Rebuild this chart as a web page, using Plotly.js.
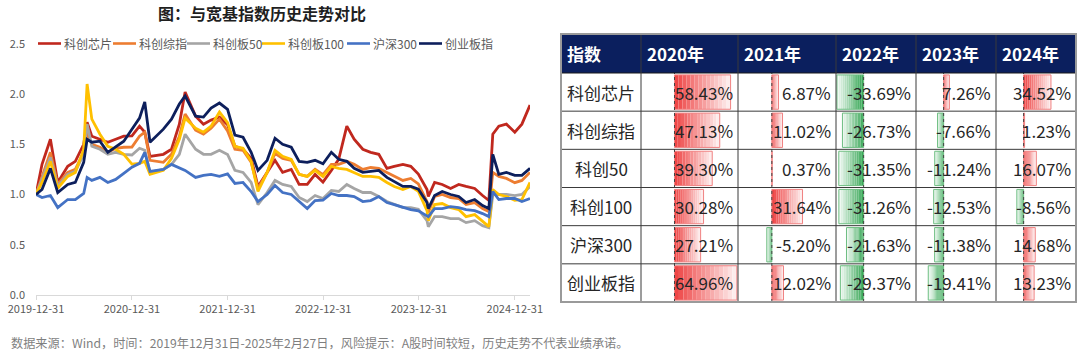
<!DOCTYPE html>
<html><head><meta charset="utf-8">
<script src="https://cdn.plot.ly/plotly-3.0.1.min.js"></script>
<style>html,body{margin:0;padding:0;background:#fff}#chart{width:1080px;height:354px}</style>
</head><body><div id="chart"></div>
<script>
// ---------- line chart data (normalised, 2019-12-31 = 1) ----------
const dates = ['2019-12-31','2020-01-23','2020-02-24','2020-03-23','2020-04-30','2020-05-29','2020-06-30','2020-07-13','2020-07-31','2020-08-31',
 '2020-09-30','2020-10-30','2020-11-30','2020-12-31','2021-01-29','2021-02-18','2021-03-10','2021-04-30','2021-05-31','2021-06-30',
 '2021-07-22','2021-08-31','2021-09-30','2021-10-29','2021-11-30','2021-12-31','2022-01-28','2022-02-28','2022-03-31','2022-04-26',
 '2022-05-31','2022-06-30','2022-07-29','2022-08-31','2022-09-30','2022-10-31','2022-11-30','2022-12-30','2023-01-31','2023-02-28',
 '2023-03-31','2023-04-28','2023-05-31','2023-06-30','2023-07-31','2023-08-31','2023-09-28','2023-10-31','2023-11-30','2023-12-29',
 '2024-01-31','2024-02-05','2024-02-29','2024-03-29','2024-04-30','2024-05-31','2024-06-28','2024-07-31','2024-08-30','2024-09-23',
 '2024-10-08','2024-10-31','2024-11-29','2024-12-31','2025-01-27','2025-02-27'];
const seriesNames = ['科创芯片','科创综指','科创板50','科创板100','沪深300','创业板指'];
const kcChip = [1.00,1.30,1.55,1.12,1.28,1.33,1.50,1.72,1.58,1.55,1.52,1.55,1.58,1.584,1.68,1.62,1.38,1.40,1.45,1.70,2.02,1.78,1.70,1.74,1.77,1.693,1.48,1.45,1.36,1.08,1.22,1.34,1.22,1.25,1.10,1.10,1.20,1.123,1.24,1.35,1.68,1.55,1.45,1.42,1.40,1.26,1.28,1.30,1.28,1.204,1.05,0.98,1.12,1.10,1.06,1.10,1.08,1.06,0.99,0.94,1.60,1.68,1.70,1.62,1.70,1.89];
const kcComp = [1.00,1.18,1.42,1.10,1.22,1.25,1.42,1.62,1.50,1.47,1.42,1.46,1.47,1.471,1.58,1.62,1.34,1.32,1.40,1.58,1.80,1.64,1.60,1.66,1.75,1.633,1.45,1.44,1.32,1.06,1.22,1.41,1.36,1.34,1.20,1.18,1.25,1.197,1.30,1.30,1.33,1.30,1.25,1.27,1.26,1.22,1.18,1.14,1.16,1.105,0.93,0.82,0.98,1.00,0.97,0.96,0.90,0.92,0.86,0.83,1.22,1.18,1.16,1.118,1.14,1.22];
const kc50 = [1.00,1.15,1.37,1.08,1.20,1.23,1.40,1.70,1.48,1.45,1.40,1.42,1.40,1.393,1.46,1.44,1.22,1.25,1.30,1.40,1.60,1.45,1.40,1.40,1.44,1.398,1.24,1.22,1.12,0.90,1.02,1.14,1.10,1.08,0.97,0.93,0.99,0.960,1.04,1.03,1.10,1.06,1.02,1.02,0.98,0.93,0.90,0.87,0.87,0.852,0.74,0.68,0.78,0.78,0.76,0.76,0.72,0.74,0.69,0.67,1.00,1.00,1.00,0.989,1.00,1.08];
const kc100 = [1.00,1.12,1.33,1.06,1.18,1.22,1.45,2.10,1.75,1.60,1.48,1.45,1.40,1.303,1.31,1.33,1.20,1.24,1.36,1.55,1.76,1.66,1.62,1.68,1.82,1.715,1.48,1.46,1.33,1.03,1.22,1.44,1.38,1.35,1.20,1.18,1.24,1.179,1.28,1.26,1.25,1.22,1.18,1.18,1.17,1.12,1.08,1.05,1.08,1.031,0.84,0.74,0.90,0.91,0.87,0.85,0.78,0.80,0.73,0.68,1.05,1.00,0.98,0.943,0.95,1.12];
const hs300 = [1.00,0.97,0.99,0.87,0.95,0.95,1.01,1.17,1.14,1.17,1.12,1.15,1.21,1.272,1.31,1.42,1.23,1.25,1.30,1.27,1.24,1.17,1.19,1.20,1.18,1.206,1.11,1.12,1.03,0.93,1.00,1.09,1.02,1.00,0.93,0.86,0.94,0.945,1.01,0.99,0.99,0.98,0.93,0.94,0.98,0.92,0.90,0.87,0.85,0.838,0.78,0.78,0.86,0.86,0.88,0.87,0.85,0.84,0.81,0.78,1.03,0.95,0.96,0.961,0.93,0.96];
const cyb = [1.00,1.05,1.26,1.02,1.10,1.12,1.32,1.55,1.52,1.53,1.42,1.47,1.53,1.65,1.76,1.92,1.52,1.65,1.75,1.90,1.98,1.78,1.77,1.86,1.91,1.848,1.59,1.57,1.42,1.24,1.34,1.56,1.50,1.47,1.33,1.32,1.34,1.305,1.42,1.35,1.33,1.26,1.22,1.23,1.24,1.17,1.13,1.08,1.08,1.052,0.92,0.86,0.99,1.03,1.00,0.98,0.92,0.95,0.89,0.86,1.40,1.20,1.22,1.191,1.19,1.26];
const xTickVals = ['2019-12-31','2020-12-31','2021-12-31','2022-12-31','2023-12-31','2024-12-31'];

// ---------- table data ----------
const tableHeader = ['指数','2020年','2021年','2022年','2023年','2024年'];
const tableRows = ['科创芯片','科创综指','科创50','科创100','沪深300','创业板指'];
const ret2020 = [58.43,47.13,39.30,30.28,27.21,64.96];
const ret2021 = [6.87,11.02,0.37,31.64,-5.20,12.02];
const ret2022 = [-33.69,-26.73,-31.35,-31.26,-21.63,-29.37];
const ret2023 = [7.26,-7.66,-11.24,-12.53,-11.38,-19.41];
const ret2024 = [34.52,1.23,16.07,-8.56,14.68,13.23];

// ---------- build ----------
const W = 1080, H = 354;
const px = x => x / W, py = y => 1 - y / H;
const FONT = '"Noto Sans CJK SC", "Noto Sans", sans-serif';
const seriesData = [kcChip, kcComp, kc50, kc100, hs300, cyb];
const seriesColors = ['#C0281E','#ED7D31','#A5A5A5','#FFC000','#4472C4','#0D1F5C'];

const traces = [];
seriesData.forEach((s, i) => traces.push({
  type: 'scatter', mode: 'lines', x: dates, y: s, name: seriesNames[i],
  line: {color: seriesColors[i], width: 2.8}, xaxis: 'x', yaxis: 'y', showlegend: false, hoverinfo: 'skip'
}));

const shapes = [], annotations = [];
// custom legend
const legX = [38, 113, 187, 262, 347, 419];
seriesNames.forEach((n, i) => {
  shapes.push({type: 'line', xref: 'paper', yref: 'paper', x0: px(legX[i]), x1: px(legX[i] + 23), y0: py(43.5), y1: py(43.5),
    line: {color: seriesColors[i], width: 2.6}});
  annotations.push({xref: 'paper', yref: 'paper', x: px(legX[i] + 24), y: py(43.5), xanchor: 'left', yanchor: 'middle',
    text: n, showarrow: false, font: {family: FONT, size: 12, color: '#595959'}});
});
// footer
annotations.push({xref: 'paper', yref: 'paper', x: px(9), y: py(343), xanchor: 'left', yanchor: 'middle', showarrow: false,
  text: '数据来源：Wind，时间：2019年12月31日-2025年2月27日，风险提示：A股时间较短，历史走势不代表业绩承诺。',
  font: {family: FONT, size: 12.2, color: '#7F7F7F'}});

// ---------- table ----------
const colEdges = [561, 641, 738, 836, 916, 996, 1076];
const tTop = 34, hBot = 73, tBot = 302;
const rowH = (tBot - hBot) / tableRows.length;
const yearData = [ret2020, ret2021, ret2022, ret2023, ret2024];
const allVals = [].concat(...yearData);
const vMin = Math.min(...allVals), vMax = Math.max(...allVals);
const pad = (vMax - vMin) * 0.012;
const N = 14;
const mix = (a, b, t) => a.map((c, j) => Math.round(c + (b[j] - c) * t));
const POS = [238, 70, 70], POS_END = [253, 236, 236], NEG = [58, 168, 88], NEG_END = [236, 247, 239];

shapes.push({type: 'rect', xref: 'paper', yref: 'paper', x0: px(colEdges[0]), x1: px(colEdges[6]), y0: py(hBot), y1: py(tTop),
  fillcolor: '#0B1F5E', line: {width: 0}, layer: 'below'});

const layoutAxes = {};
yearData.forEach((vals, c) => {
  const ax = 'x' + (c + 2);
  layoutAxes['xaxis' + (c + 2)] = {domain: [px(colEdges[c + 1]), px(colEdges[c + 2])], range: [vMin - pad, vMax + pad],
    anchor: 'y2', showticklabels: false, showgrid: false, zeroline: false, showline: false, fixedrange: true};
  for (let k = 0; k < N; k++) {
    traces.push({type: 'bar', orientation: 'h', xaxis: ax, yaxis: 'y2', y: tableRows,
      x: vals.map(v => v / N), base: vals.map(v => v * k / N), width: 0.9,
      marker: {color: vals.map(v => 'rgb(' + mix(v >= 0 ? POS : NEG, v >= 0 ? POS_END : NEG_END, k / (N - 1)).join(',') + ')'), line: {width: 0}},
      showlegend: false, hoverinfo: 'skip'});
  }
  traces.push({type: 'bar', orientation: 'h', xaxis: ax, yaxis: 'y2', y: tableRows, x: vals, base: vals.map(() => 0), width: 0.9,
    marker: {color: 'rgba(0,0,0,0)', line: {width: 1, color: vals.map(v => v >= 0 ? 'rgb(240,130,130)' : 'rgb(110,190,130)')}},
    showlegend: false, hoverinfo: 'skip'});
  shapes.push({type: 'line', xref: ax, yref: 'paper', x0: 0, x1: 0, y0: py(tBot), y1: py(hBot), layer: 'above',
    line: {color: '#444', width: 1, dash: 'dot'}});
  vals.forEach((v, r) => annotations.push({xref: ax + ' domain', yref: 'y2', x: 1, y: tableRows[r], xanchor: 'right', yanchor: 'middle',
    xshift: -3, showarrow: false, text: v.toFixed(2) + '%', font: {family: FONT, size: 17, color: '#262626'}}));
});
tableRows.forEach(r => annotations.push({xref: 'paper', yref: 'y2', x: px((colEdges[0] + colEdges[1]) / 2), y: r,
  xanchor: 'center', yanchor: 'middle', showarrow: false, text: r, font: {family: FONT, size: 17, color: '#262626'}}));
tableHeader.forEach((h, c) => annotations.push({xref: 'paper', yref: 'paper', x: px(colEdges[c] + 4), y: py((tTop + hBot) / 2),
  xanchor: 'left', yanchor: 'middle', showarrow: false, text: '<b>' + h + '</b>', font: {family: FONT, size: 17, color: '#FFFFFF'}}));
// grid lines
for (let r = 1; r < tableRows.length; r++) {
  const y = hBot + r * rowH;
  shapes.push({type: 'line', xref: 'paper', yref: 'paper', x0: px(colEdges[0]), x1: px(colEdges[6]), y0: py(y), y1: py(y), line: {color: '#3a3a3a', width: 1}});
}
shapes.push({type: 'line', xref: 'paper', yref: 'paper', x0: px(colEdges[0]), x1: px(colEdges[6]), y0: py(hBot), y1: py(hBot), line: {color: '#1a1a1a', width: 1}});
for (let c = 1; c < colEdges.length - 1; c++) {
  shapes.push({type: 'line', xref: 'paper', yref: 'paper', x0: px(colEdges[c]), x1: px(colEdges[c]), y0: py(tBot), y1: py(tTop), line: {color: '#3a3a3a', width: 1}});
}
shapes.push({type: 'rect', xref: 'paper', yref: 'paper', x0: px(colEdges[0]), x1: px(colEdges[6]), y0: py(tBot), y1: py(tTop),
  line: {color: '#9a9a9a', width: 2}, fillcolor: 'rgba(0,0,0,0)'});

const layout = Object.assign({
  width: W, height: H, margin: {l: 0, r: 0, t: 0, b: 0}, paper_bgcolor: '#fff', plot_bgcolor: 'rgba(0,0,0,0)',
  showlegend: false, barmode: 'overlay', font: {family: FONT},
  title: {text: '<b>图：与宽基指数历史走势对比</b>', x: px(262), xanchor: 'center', y: py(14), yanchor: 'middle', xref: 'paper', yref: 'paper',
    font: {family: FONT, size: 16, color: '#1F1F1F'}},
  xaxis: {type: 'date', domain: [px(36), px(530)], range: ['2019-12-31', '2025-02-27'], tickvals: xTickVals, ticktext: xTickVals,
    showgrid: false, zeroline: false, showline: true, linecolor: '#D9D9D9', linewidth: 1, ticks: 'outside', ticklen: 4, tickcolor: '#D9D9D9',
    tickfont: {family: FONT, size: 11, color: '#595959'}, fixedrange: true},
  yaxis: {domain: [py(295), py(43.75)], range: [0, 2.5], dtick: 0.5, tickformat: '.1f', showgrid: false, zeroline: false, showline: false,
    ticks: '', ticklabelstandoff: 10, tickfont: {family: FONT, size: 11, color: '#595959'}, fixedrange: true},
  yaxis2: {domain: [py(tBot), py(hBot)], type: 'category', categoryorder: 'array', categoryarray: tableRows, range: [tableRows.length - 0.5, -0.5],
    anchor: 'x2', showticklabels: false, showgrid: false, zeroline: false, fixedrange: true},
  shapes: shapes, annotations: annotations
}, layoutAxes);

Plotly.newPlot('chart', traces, layout, {staticPlot: true, displayModeBar: false});
</script></body></html>
